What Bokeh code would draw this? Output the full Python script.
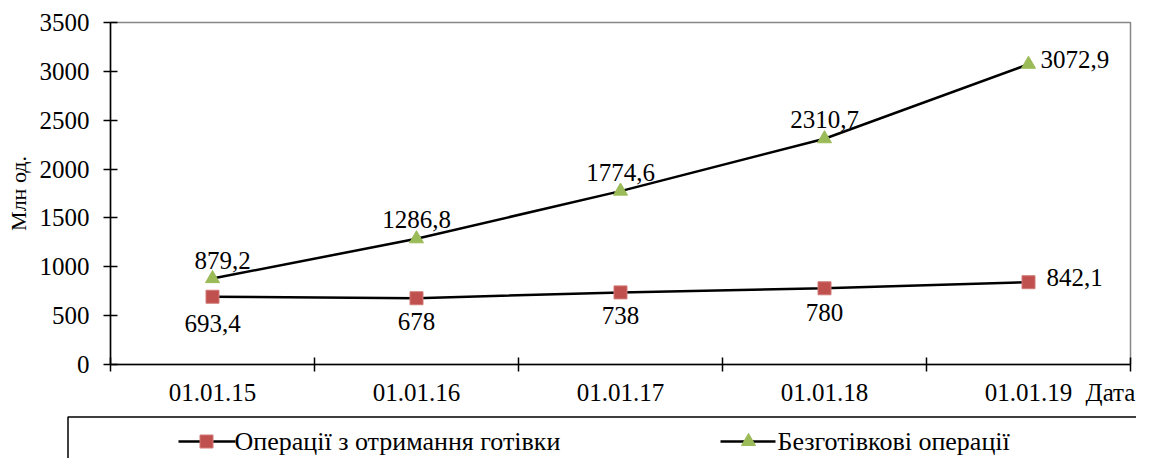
from bokeh.plotting import figure
from bokeh.models import Range1d, FixedTicker, ColumnDataSource, AllLabels
from bokeh.layouts import column
from bokeh.embed import file_html
from bokeh.resources import INLINE
from bokeh.core.properties import value

# ---- data ----
dates = ["01.01.15", "01.01.16", "01.01.17", "01.01.18", "01.01.19"]
cash_ops = [693.4, 678, 738, 780, 842.1]
cashless_ops = [879.2, 1286.8, 1774.6, 2310.7, 3072.9]
cash_name = "Операції з отримання готівки"
cashless_name = "Безготівкові операції"
y_ticks = [0, 500, 1000, 1500, 2000, 2500, 3000, 3500]
y_label = "Млн од."
x_label = "Дата"

FONT = "Liberation Serif"
RED = "#C0504D"
GREEN = "#9BBB59"

def fmt(v):
    s = ("%.1f" % v).rstrip("0").rstrip(".")
    return s.replace(".", ",")

n = len(dates)
xs = [i + 0.5 for i in range(n)]
x_label_pos = n - 0.098   # axis title sits at the right end of the x axis

W = 1136
p = figure(width=W, height=408, output_backend="svg", toolbar_location=None,
           x_range=Range1d(0, n), y_range=Range1d(0, 3500),
           min_border_left=110, min_border_right=6, min_border_top=22, min_border_bottom=37)
p.frame_align = False
p.background_fill_color = "white"
p.border_fill_color = "white"
p.outline_line_color = "#868686"
p.outline_line_width = 1.5
p.grid.visible = False

ticks = xs + [x_label_pos]
p.xaxis.ticker = FixedTicker(ticks=ticks, minor_ticks=list(range(n + 1)))
overrides = {x: d for x, d in zip(xs, dates)}
overrides[x_label_pos] = x_label
p.xaxis.major_label_overrides = overrides
p.xaxis.major_label_policy = AllLabels()
p.xaxis.major_tick_in = 0
p.xaxis.major_tick_out = 0
p.xaxis.minor_tick_in = 7
p.xaxis.minor_tick_out = 7
p.xaxis.minor_tick_line_color = "black"
p.xaxis.minor_tick_line_width = 1.5
p.xaxis.major_label_standoff = 7
p.yaxis.ticker = FixedTicker(ticks=y_ticks)
p.yaxis.major_tick_in = 7
p.yaxis.major_tick_out = 7
p.yaxis.minor_tick_line_color = None
p.yaxis.major_label_standoff = 14
p.yaxis.axis_label = y_label
p.yaxis.axis_label_standoff = 6
p.yaxis.axis_label_text_font = FONT
p.yaxis.axis_label_text_font_size = "22px"
p.yaxis.axis_label_text_font_style = "normal"
p.yaxis.axis_label_text_color = "black"
for ax in (p.xaxis, p.yaxis):
    ax.axis_line_color = "black"
    ax.axis_line_width = 1.5
    ax.major_tick_line_color = "black"
    ax.major_tick_line_width = 1.5
    ax.major_label_text_font = FONT
    ax.major_label_text_font_size = "25px"
    ax.major_label_text_color = "black"

src = ColumnDataSource(dict(
    x=xs, cash=cash_ops, cashless=cashless_ops,
    cash_lbl=[fmt(v) for v in cash_ops],
    cashless_lbl=[fmt(v) for v in cashless_ops],
))

p.line("x", "cashless", source=src, line_color="black", line_width=2.5)
p.line("x", "cash", source=src, line_color="black", line_width=2.5)
p.scatter("x", "cashless", source=src, marker="triangle", size=14,
          fill_color=GREEN, line_color=GREEN)
p.scatter("x", "cash", source=src, marker="square", size=13,
          fill_color=RED, line_color="#D07A78", line_width=1)

# data-label placement (pixels)
src.data["top_dx"] = [10, 0, 0, 0, 12]
src.data["top_dy"] = [-18, -19, -19, -19, -5]
src.data["bot_dx"] = [0, 0, 0, 0, 18]
src.data["bot_dy"] = [27, 23, 23, 24, -5]
src.data["align"] = ["center"] * (n - 1) + ["left"]

p.text("x", "cashless", text="cashless_lbl", source=src, x_offset="top_dx", y_offset="top_dy",
       text_align="align", text_baseline="middle", text_font=value(FONT),
       text_font_size="25px", text_color="black")
p.text("x", "cash", text="cash_lbl", source=src, x_offset="bot_dx", y_offset="bot_dy",
       text_align="align", text_baseline="middle", text_font=value(FONT),
       text_font_size="25px", text_color="black")

# ---- legend panel (pixel coordinates, y downwards) ----
LH = 50
lg = figure(width=W, height=LH, output_backend="svg", toolbar_location=None,
            x_range=Range1d(0, W), y_range=Range1d(LH, 0),
            min_border_left=0, min_border_right=0, min_border_top=0, min_border_bottom=0)
lg.frame_align = False
lg.axis.visible = False
lg.grid.visible = False
lg.outline_line_color = None
lg.background_fill_color = "white"
lg.border_fill_color = "white"
lg.line(x=[67.5, 67.5, W + 20], y=[LH + 20, 8.5, 8.5], line_color="black", line_width=1.5)

ly = 33
lg.line(x=[178, 235], y=[ly, ly], line_color="black", line_width=2.5)
lg.scatter(x=[206], y=[ly], marker="square", size=13, fill_color=RED, line_color="#D07A78")
lg.text(x=[234], y=[ly], text=[cash_name], text_baseline="middle", text_font=value(FONT),
        text_font_size="26px", text_color="black")
lg.line(x=[720, 775], y=[ly, ly], line_color="black", line_width=2.5)
lg.scatter(x=[748], y=[ly], marker="triangle", size=14, fill_color=GREEN, line_color=GREEN)
lg.text(x=[777], y=[ly], text=[cashless_name], text_baseline="middle", text_font=value(FONT),
        text_font_size="26px", text_color="black")

layout = column(p, lg, spacing=0)
open("out.html", "w").write(file_html(layout, INLINE))
